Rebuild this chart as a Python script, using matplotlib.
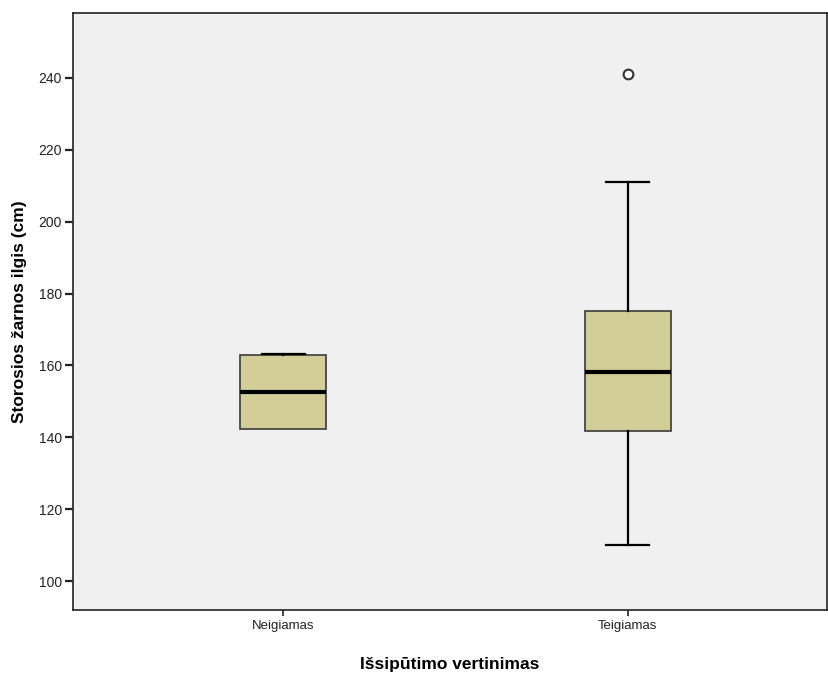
import matplotlib.pyplot as plt

groups = ["Neigiamas", "Teigiamas"]
q1 = [142.2, 141.7]
medians = [152.7, 158.2]
q3 = [163.0, 175.0]
whisker_lo = [142.2, 110.2]
whisker_hi = [163.1, 210.9]
fliers = [[], [240.9]]

plt.rcParams['font.family'] = ['Liberation Sans', 'DejaVu Sans']

fig = plt.figure(figsize=(8.29, 6.75), dpi=100)
ax = fig.add_axes([73 / 829, 1 - 610 / 675, 754 / 829, 597 / 675])
ax.set_facecolor('#f0f0f0')

stats = []
for i, g in enumerate(groups):
    stats.append(dict(label=g, q1=q1[i], med=medians[i], q3=q3[i],
                      whislo=whisker_lo[i], whishi=whisker_hi[i], fliers=fliers[i]))

parts = ax.bxp(stats, positions=[1, 2], widths=0.25, patch_artist=True,
               boxprops=dict(facecolor='#d3ce98', edgecolor='#3a3a3a', linewidth=1.2),
               medianprops=dict(color='black', linewidth=3),
               whiskerprops=dict(color='black', linewidth=1.6),
               capprops=dict(color='black', linewidth=1.6),
               capwidths=0.125,
               flierprops=dict(marker='o', markersize=7, markerfacecolor='white',
                               markeredgecolor='#333333', markeredgewidth=1.5))
# whisker equals the box edge here, so the lower cap is hidden like in SPSS
parts['caps'][0].set_visible(False)

ax.set_xlim(0.39, 2.578)
ax.set_ylim(92, 258)
ax.set_yticks([100, 120, 140, 160, 180, 200, 220, 240])
ax.tick_params(axis='y', direction='out', length=6, width=1.6, labelsize=10, colors='#222222', pad=2)
ax.tick_params(axis='x', direction='out', length=4, width=1.2, labelsize=9.5, colors='#222222', pad=3)
for s in ax.spines.values():
    s.set_color('#222222')
    s.set_linewidth(1.2)

ax.set_xlabel('Išsipūtimo vertinimas', fontsize=12.5, fontweight='bold', labelpad=18)
ax.set_ylabel('Storosios žarnos ilgis (cm)', fontsize=12.5, fontweight='bold', labelpad=8)

fig.savefig('out.png', dpi=100)
